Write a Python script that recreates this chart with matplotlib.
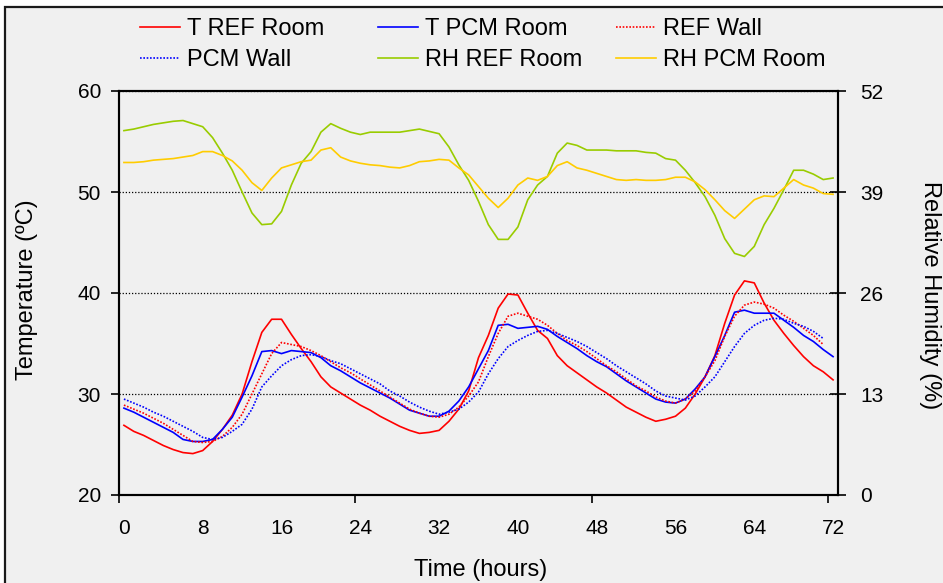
import numpy as np
import matplotlib
matplotlib.use('Agg')
import matplotlib.pyplot as plt
from matplotlib.patches import Rectangle

plt.rcParams['font.family'] = ['Liberation Sans', 'DejaVu Sans']

# hourly readings, 0..72 h
hours = np.arange(73)
wall_hours = np.arange(72)

t_ref_room = [26.9, 26.3, 25.9, 25.4, 24.9, 24.5, 24.2, 24.1, 24.4, 25.3,
              26.5, 27.9, 30.0, 33.2, 36.1, 37.4, 37.4, 35.9, 34.5, 33.2,
              31.7, 30.7, 30.1, 29.5, 28.9, 28.4, 27.8, 27.3, 26.8, 26.4,
              26.1, 26.2, 26.4, 27.3, 28.5, 30.3, 33.6, 35.8, 38.5, 39.9,
              39.8, 38.0, 36.3, 35.5, 33.8, 32.8, 32.1, 31.4, 30.7, 30.1,
              29.4, 28.7, 28.2, 27.7, 27.3, 27.5, 27.8, 28.6, 30.0, 31.7,
              33.8, 37.0, 39.8, 41.2, 41.0, 39.0, 37.3, 36.0, 34.8, 33.7,
              32.8, 32.2, 31.4]
t_pcm_room = [28.6, 28.2, 27.7, 27.2, 26.7, 26.2, 25.5, 25.3, 25.3, 25.5,
              26.5, 27.7, 29.7, 31.8, 34.2, 34.3, 34.0, 34.3, 34.2, 34.1,
              33.6, 32.8, 32.3, 31.7, 31.1, 30.6, 30.1, 29.6, 29.0, 28.4,
              28.1, 27.8, 27.8, 28.3, 29.3, 30.7, 32.5, 34.3, 36.8, 36.9,
              36.5, 36.6, 36.7, 36.4, 35.7, 35.1, 34.5, 33.8, 33.2, 32.7,
              32.0, 31.3, 30.7, 30.1, 29.5, 29.2, 29.1, 29.5, 30.5, 31.7,
              33.7, 35.8, 38.1, 38.3, 38.0, 38.0, 38.0, 37.3, 36.6, 35.8,
              35.2, 34.4, 33.7]
ref_wall = [28.9, 28.5, 28.1, 27.6, 27.1, 26.5, 25.9, 25.3, 25.2, 25.3,
            25.8, 26.7, 28.0, 30.0, 32.0, 34.0, 35.1, 34.9, 34.7, 34.3,
            33.8, 33.2, 32.6, 32.1, 31.5, 30.9, 30.3, 29.7, 29.1, 28.5,
            28.1, 27.8, 27.7, 28.0, 28.7, 29.8, 31.2, 33.7, 36.0, 37.7,
            38.0, 37.7, 37.4, 36.8, 36.0, 35.3, 34.8, 34.2, 33.5, 32.8,
            32.2, 31.5, 30.8, 30.3, 29.7, 29.3, 29.1, 29.5, 30.3, 31.7,
            33.3, 35.7, 37.7, 38.8, 39.1, 38.9, 38.5, 37.8, 37.2, 36.5,
            35.8, 34.9]
pcm_wall = [29.5, 29.1, 28.7, 28.2, 27.8, 27.3, 26.8, 26.3, 25.7, 25.5,
            25.7, 26.3, 27.0, 28.5, 30.7, 31.8, 32.8, 33.4, 33.8, 33.9,
            33.7, 33.3, 33.0, 32.5, 32.0, 31.5, 31.0, 30.3, 29.8, 29.2,
            28.7, 28.3, 28.0, 28.2, 28.5, 29.2, 30.2, 32.0, 33.5, 34.7,
            35.3, 35.8, 36.2, 36.3, 36.0, 35.6, 35.2, 34.7, 34.1, 33.5,
            32.8, 32.2, 31.6, 31.0, 30.3, 29.8, 29.6, 29.4, 29.8, 30.7,
            31.7, 33.2, 34.7, 36.0, 36.8, 37.3, 37.5, 37.4, 37.0, 36.7,
            36.2, 35.5]
rh_ref_room = [46.9, 47.1, 47.4, 47.7, 47.9, 48.1, 48.2, 47.8, 47.4, 46.0,
               44.0, 41.8, 39.0, 36.3, 34.8, 34.9, 36.5, 39.9, 42.7, 44.2,
               46.7, 47.8, 47.2, 46.7, 46.4, 46.7, 46.7, 46.7, 46.7, 46.9,
               47.1, 46.8, 46.5, 44.8, 42.5, 40.5, 37.8, 34.8, 32.9, 32.9,
               34.5, 38.0, 39.9, 41.0, 44.0, 45.3, 45.0, 44.4, 44.4, 44.4,
               44.3, 44.3, 44.3, 44.1, 44.0, 43.3, 43.1, 41.8, 40.2, 38.4,
               36.0, 33.0, 31.1, 30.7, 32.0, 34.8, 36.9, 39.3, 41.8, 41.8,
               41.3, 40.6, 40.8]
rh_pcm_room = [42.8, 42.8, 42.9, 43.1, 43.2, 43.3, 43.5, 43.7, 44.2, 44.2,
               43.7, 43.0, 41.8, 40.2, 39.2, 40.8, 42.1, 42.5, 42.9, 43.1,
               44.4, 44.7, 43.5, 43.0, 42.7, 42.5, 42.4, 42.2, 42.1, 42.4,
               42.9, 43.0, 43.2, 43.1, 42.1, 41.2, 39.7, 38.2, 37.0, 38.2,
               39.9, 40.8, 40.5, 41.0, 42.4, 42.9, 42.1, 41.8, 41.4, 41.0,
               40.6, 40.5, 40.6, 40.5, 40.5, 40.6, 40.9, 40.9, 40.3, 39.3,
               38.0, 36.6, 35.6, 36.8, 38.0, 38.5, 38.4, 39.5, 40.6, 39.9,
               39.5, 38.8, 38.7]

x_labels = list(range(0, 73, 8))
temp_ticks = [20, 30, 40, 50, 60]
rh_ticks = [0, 13, 26, 39, 52]

bg = '#f0f0f0'
fig = plt.figure(figsize=(9.43, 5.83), dpi=100, facecolor='white')
fig.patches.append(Rectangle((5 / 943, -0.5), 2, 1.5 - 7 / 583,
                             transform=fig.transFigure, facecolor=bg,
                             edgecolor='#1a1a1a', linewidth=1.6, zorder=-10))

ax = fig.add_axes([119 / 943, 1 - 495 / 583, 719 / 943, 404 / 583])
ax.set_facecolor(bg)
ax2 = ax.twinx()

ax.plot(hours, t_ref_room, color='#ff0000', lw=1.2, label='T REF Room')
ax.plot(hours, t_pcm_room, color='#0000ff', lw=1.2, label='T PCM Room')
ax.plot(wall_hours, ref_wall, color='#ff0000', lw=1.2, ls=(0, (1, 1)),
        label='REF Wall')
ax.plot(wall_hours, pcm_wall, color='#0000ff', lw=1.2, ls=(0, (1, 1)),
        label='PCM Wall')
ax2.plot(hours, rh_ref_room, color='#99cc00', lw=1.2, label='RH REF Room')
ax2.plot(hours, rh_pcm_room, color='#ffcc00', lw=1.2, label='RH PCM Room')

ax.set_xlim(-0.5, 72.5)
ax.set_ylim(20, 60)
ax2.set_ylim(0, 52)
ax.set_xticks(x_labels)
ax.set_xticks([-0.5, 23.5, 47.5, 71.5], minor=True)
ax.set_yticks(temp_ticks)
ax2.set_yticks(rh_ticks)

ax.tick_params(axis='x', which='major', length=0, pad=17, labelsize=15)
ax.tick_params(axis='x', which='minor', length=6, width=1.2, direction='out')
ax.tick_params(axis='y', length=6, width=1.2, direction='out', pad=7,
               labelsize=15)
ax2.tick_params(axis='y', length=12, width=1.2, direction='inout', pad=10,
                labelsize=15)

ax.grid(axis='y', color='black', lw=0.9, ls=(0, (1, 1.5)))
for a in (ax, ax2):
    for s in a.spines.values():
        s.set_linewidth(1.5)
        s.set_color('black')

fig.text(27 / 943, 1 - 290 / 583, 'Temperature (ºC)', rotation=90,
         ha='center', va='center', fontsize=17)
fig.text(930 / 943, 1 - 295 / 583, 'Relative Humidity (%)', rotation=270,
         ha='center', va='center', fontsize=17)
fig.text(481 / 943, 1 - 570 / 583, 'Time (hours)', ha='center', va='center',
         fontsize=17)

# legend: three columns of two entries each
handles = ax.get_lines() + ax2.get_lines()
cols = [(handles[0], handles[3]), (handles[1], handles[4]),
        (handles[2], handles[5])]
col_x = [140, 378, 616]
for (h1, h2), cx in zip(cols, col_x):
    fig.legend([h1, h2], [h1.get_label(), h2.get_label()],
               loc='upper left', bbox_to_anchor=(cx / 943, 1 - 18 / 583),
               frameon=False, fontsize=17, handlelength=1.7,
               handletextpad=0.3, labelspacing=0.38, borderpad=0,
               borderaxespad=0)

fig.savefig('out.png', dpi=100, facecolor='white')
